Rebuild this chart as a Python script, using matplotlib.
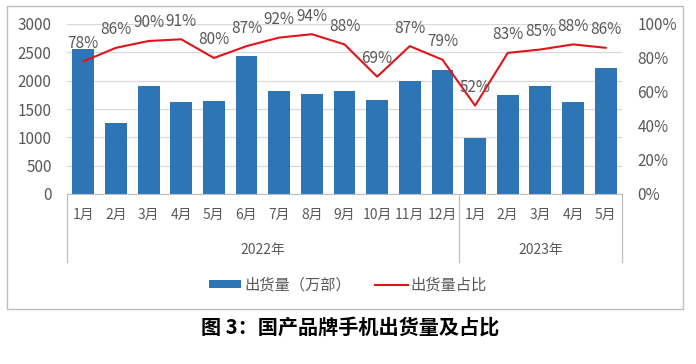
import matplotlib.pyplot as plt
from matplotlib.patches import Rectangle

plt.rcParams['font.family'] = ['Noto Sans CJK SC', 'DejaVu Sans']

# data
months = ["1月", "2月", "3月", "4月", "5月", "6月", "7月", "8月", "9月", "10月", "11月", "12月",
          "1月", "2月", "3月", "4月", "5月"]
years = ["2022年", "2023年"]
months_per_year = [12, 5]
shipments = [2555, 1260, 1912, 1630, 1647, 2441, 1818, 1771, 1824, 1665, 2000, 2195,
             983, 1753, 1912, 1624, 2230]
share = [78, 86, 90, 91, 80, 87, 92, 94, 88, 69, 87, 79, 52, 83, 85, 88, 86]

blue = "#2E75B6"
red = "#E0141B"
grey_text = "#595959"
grid_c = "#D9D9D9"

fig = plt.figure(figsize=(6.96, 3.64), dpi=100)
ax = fig.add_axes([67 / 696, 1 - 194 / 364, 555 / 696, 170 / 364])
x = list(range(len(months)))

bars = ax.bar(x, shipments, width=0.67, color=blue, zorder=2)
ax.set_xlim(-0.5, len(months) - 0.5)
ax.set_ylim(0, 3000)
ax.set_yticks(range(0, 3001, 500))
ax.grid(axis='y', color=grid_c, lw=0.9, zorder=0)
ax.set_axisbelow(True)
for s in ['top', 'right', 'left']:
    ax.spines[s].set_visible(False)
ax.spines['bottom'].set_color("#BFBFBF")
ax.tick_params(axis='y', length=0, pad=11, labelsize=11, labelcolor=grey_text)
ax.set_xticks(x)
ax.set_xticklabels(months)
ax.tick_params(axis='x', length=0, pad=10, labelsize=10, labelcolor=grey_text)

ax2 = ax.twinx()
line, = ax2.plot(x, share, color=red, lw=1.5, zorder=3)
ax2.set_ylim(0, 100)
ax2.set_yticks(range(0, 101, 20))
ax2.set_yticklabels([f"{v}%" for v in range(0, 101, 20)])
for s in ax2.spines.values():
    s.set_visible(False)
ax2.tick_params(axis='y', length=0, pad=11, labelsize=11, labelcolor=grey_text)

for xi, v in zip(x, share):
    ax2.annotate(f"{v}%", (xi, v), xytext=(0, 13), textcoords='offset points',
                 ha='center', va='center', fontsize=11, color=grey_text)

# grouped category axis: separators and year labels
tr = ax.get_xaxis_transform()
bounds = [-0.5]
for n in months_per_year:
    bounds.append(bounds[-1] + n)
for b in bounds:
    ax.plot([b, b], [0, -0.4], transform=tr, color="#BFBFBF", lw=0.9, clip_on=False)
for i, yr in enumerate(years):
    ax.text((bounds[i] + bounds[i + 1]) / 2, -0.33, yr, transform=tr, ha='center', va='center',
            fontsize=10, color=grey_text)

fig.legend([bars, line], ["出货量（万部）", "出货量占比"], loc='center',
           bbox_to_anchor=(0.5, 1 - 285 / 364), ncol=2, frameon=False, fontsize=11,
           labelcolor=grey_text, handlelength=2.1, handleheight=0.5, columnspacing=1.6,
           handletextpad=0.2)

fig.patches.append(Rectangle((7 / 696, 1 - 309 / 364), 676 / 696, 303 / 364,
                             transform=fig.transFigure, fill=False, ec="#BFBFBF", lw=1))

fig.text(0.503, 1 - 327 / 364, "图 3：国产品牌手机出货量及占比", ha='center', va='center',
         fontsize=14.5, fontweight='heavy', color='black')

fig.savefig("out.png", dpi=100)
